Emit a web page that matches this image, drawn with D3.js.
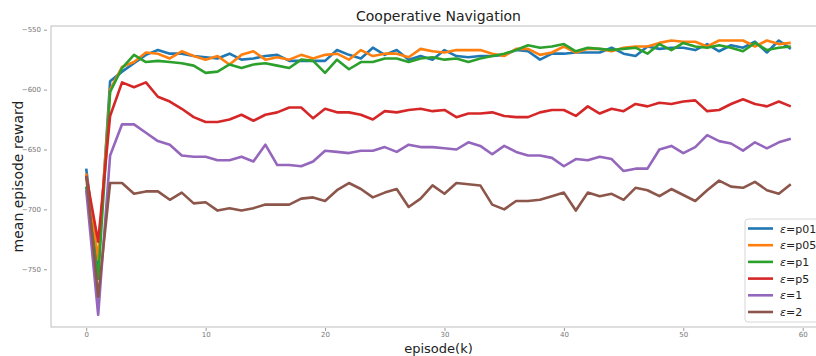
<!DOCTYPE html>
<html>
<head>
<meta charset="utf-8">
<script src="https://cdn.jsdelivr.net/npm/d3@7"></script>
<style>
  body { margin: 0; background: #fff; }
  svg { display: block; font-family: "DejaVu Sans", sans-serif; }
</style>
</head>
<body>
<svg id="chart" width="816" height="356"></svg>
<script>
// episodes 0..59 (thousands)
const episodes = d3.range(0, 60)

const seriesNames = ['p01', 'p05', 'p1', 'p5', '1', '2']
const seriesColors = ['#1f77b4', '#ff7f0e', '#2ca02c', '#d62728', '#9467bd', '#8c564b']

const epsP01 = [-666, -748, -593, -585, -578, -571, -567, -570, -570, -572, -573, -574, -570,
  -575, -574, -572, -571, -576, -576, -576, -576, -567, -571, -574, -565,
  -571, -567, -575, -572, -575, -567, -572, -573, -572, -572, -571, -567,
  -568, -575, -570, -570, -569, -569, -569, -565, -570, -572, -564, -566,
  -565, -565, -567, -562, -568, -563, -565, -560, -569, -559, -566]
const epsP05 = [-670, -742, -600, -581, -577, -569, -570, -574, -568, -572, -575, -572, -579,
  -571, -568, -575, -573, -575, -571, -574, -571, -570, -575, -567, -572,
  -570, -570, -573, -566, -568, -569, -567, -567, -567, -570, -572, -566,
  -566, -571, -569, -564, -569, -566, -566, -568, -565, -564, -564, -561,
  -559, -560, -560, -564, -559, -559, -559, -564, -559, -562, -561]
const epsP1 = [-681, -758, -602, -582, -571, -577, -576, -577, -578, -580, -586, -585, -579,
  -582, -579, -578, -580, -582, -575, -576, -586, -575, -583, -577, -577,
  -574, -574, -577, -574, -573, -575, -574, -577, -574, -572, -570, -567,
  -563, -565, -564, -562, -568, -565, -566, -567, -566, -565, -570, -562,
  -567, -561, -564, -565, -563, -565, -568, -561, -567, -565, -564]
const epsP5 = [-672, -727, -622, -594, -598, -594, -606, -610, -616, -623, -627, -627, -625,
  -621, -626, -621, -619, -615, -615, -624, -616, -619, -619, -621, -625,
  -618, -619, -617, -616, -618, -617, -623, -620, -620, -619, -622, -623,
  -623, -619, -617, -617, -622, -614, -620, -616, -618, -612, -614, -611,
  -612, -610, -609, -618, -617, -612, -608, -612, -614, -610, -614]
const eps1 = [-684, -788, -655, -629, -629, -636, -643, -646, -655, -656, -656, -659, -659,
  -656, -660, -646, -663, -663, -664, -660, -651, -652, -653, -651, -651,
  -648, -652, -646, -648, -648, -649, -650, -644, -647, -654, -647, -652,
  -655, -655, -657, -664, -658, -659, -656, -658, -668, -666, -666, -650,
  -647, -653, -648, -638, -643, -645, -651, -644, -649, -644, -641]
const eps2 = [-672, -773, -678, -678, -687, -685, -685, -692, -686, -695, -694, -701, -699,
  -701, -699, -696, -696, -696, -691, -690, -693, -684, -678, -683, -690,
  -686, -683, -698, -691, -680, -687, -678, -679, -680, -696, -700, -693,
  -693, -692, -689, -686, -701, -686, -689, -687, -692, -682, -684, -689,
  -683, -688, -693, -684, -676, -681, -682, -677, -684, -687, -679]

const seriesValues = [epsP01, epsP05, epsP1, epsP5, eps1, eps2]

const xTicks = [0, 10, 20, 30, 40, 50, 60]
const yTicks = [-750, -700, -650, -600, -550]

const svg = d3.select('#chart')
const plot = { left: 51, right: 826, top: 26, bottom: 327 }

const x = d3.scaleLinear().domain([-2.95, 61.95]).range([plot.left, plot.right])
const y = d3.scaleLinear().domain([-798.2, -546.9]).range([plot.bottom, plot.top])

// frame
svg.append('rect')
  .attr('x', plot.left).attr('y', plot.top)
  .attr('width', plot.right - plot.left).attr('height', plot.bottom - plot.top)
  .attr('fill', 'none').attr('stroke', '#bdbdbd').attr('stroke-width', 1)

const fmt = d => d < 0 ? '\u2212' + Math.abs(d) : String(d)

// ticks sit a little away from the frame
const gx = svg.append('g').attr('transform', `translate(0,${plot.bottom + 1})`)
  .call(d3.axisBottom(x).tickValues(xTicks).tickSize(3).tickPadding(1.5).tickFormat(fmt))
const gy = svg.append('g').attr('transform', `translate(${plot.left - 4},0)`)
  .call(d3.axisLeft(y).tickValues(yTicks).tickSize(3).tickPadding(3).tickFormat(fmt))
;[gx, gy].forEach(g => {
  g.select('.domain').remove()
  g.selectAll('.tick line').attr('stroke', '#999')
  g.selectAll('.tick text').attr('fill', '#777').style('font-size', '7px')
    .style('font-family', '"DejaVu Sans", sans-serif')
})

const line = d3.line().x((d, i) => x(episodes[i])).y(d => y(d))

svg.append('g').selectAll('path')
  .data(seriesValues)
  .join('path')
  .attr('d', line)
  .attr('fill', 'none')
  .attr('stroke', (d, i) => seriesColors[i])
  .attr('stroke-width', 2.6)
  .attr('stroke-linejoin', 'round')

// title and axis labels
svg.append('text').attr('x', (plot.left + plot.right) / 2).attr('y', 21)
  .attr('text-anchor', 'middle').style('font-size', '14px').attr('fill', '#222')
  .text('Cooperative Navigation')
svg.append('text').attr('x', (plot.left + plot.right) / 2).attr('y', 353)
  .attr('text-anchor', 'middle').style('font-size', '13px').attr('fill', '#222')
  .text('episode(k)')
svg.append('text').attr('transform', `translate(23,${(plot.top + plot.bottom) / 2}) rotate(-90)`)
  .attr('text-anchor', 'middle').style('font-size', '14px').attr('fill', '#222')
  .text('mean episode reward')

// legend
const legend = svg.append('g').attr('transform', 'translate(745,219)')
legend.append('rect').attr('x', 0).attr('y', 0).attr('width', 90).attr('height', 103)
  .attr('rx', 3).attr('fill', 'rgba(255,255,255,0.85)').attr('stroke', '#d6d6d6')
const items = legend.selectAll('g.item').data(seriesNames).join('g')
  .attr('class', 'item')
  .attr('transform', (d, i) => `translate(0,${9.5 + i * 16.7})`)
items.append('line').attr('x1', 3).attr('x2', 28)
  .attr('stroke', (d, i) => seriesColors[i]).attr('stroke-width', 2.6)
const lt = items.append('text').attr('x', 35).attr('y', 4).style('font-size', '11px').attr('fill', '#222')
lt.append('tspan').style('font-style', 'italic').text('\u03b5')
lt.append('tspan').text(d => '=' + d)
</script>
</body>
</html>
